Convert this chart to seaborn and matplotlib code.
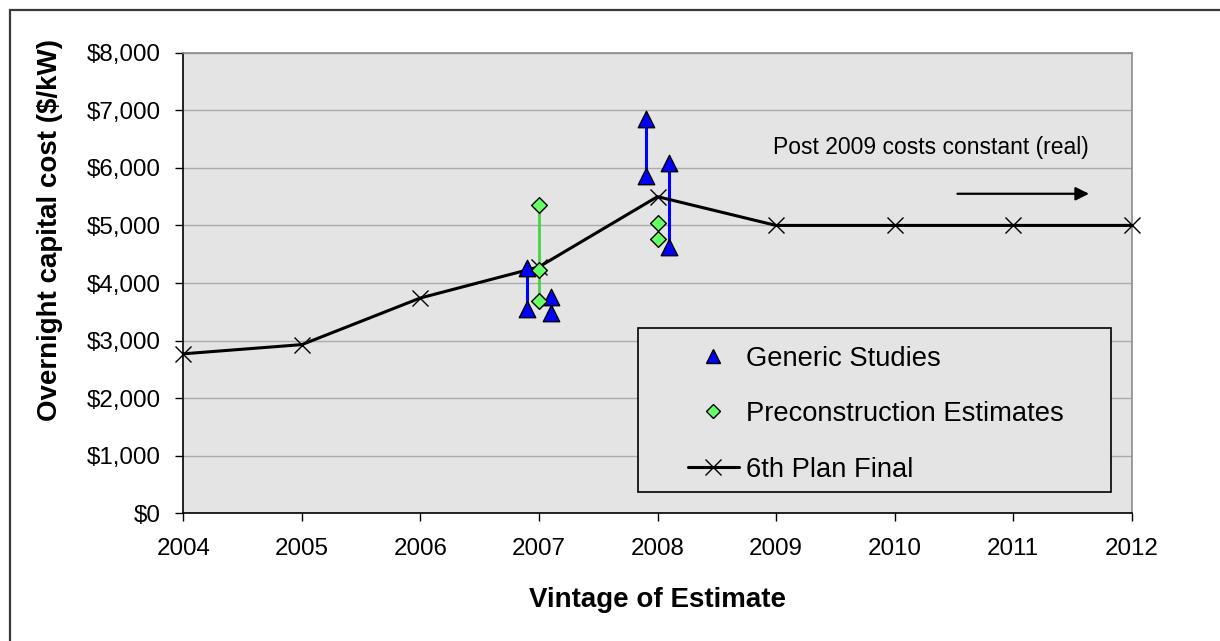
import matplotlib
matplotlib.use("Agg")
import matplotlib.pyplot as plt
import seaborn as sns
import pandas as pd
import numpy as np
from matplotlib.lines import Line2D
from matplotlib.patches import Rectangle
from matplotlib.ticker import FuncFormatter, MultipleLocator

# ---------------- data ----------------
plan_years = [2004, 2005, 2006, 2007, 2008, 2009, 2010, 2011, 2012]
plan_cost = [2770, 2930, 3740, 4280, 5500, 5000, 5000, 5000, 5000]

generic_x = [2006.9, 2006.9, 2007.1, 2007.1, 2007.9, 2007.9, 2008.1, 2008.1]
generic_cost = [4260, 3550, 3760, 3480, 6850, 5850, 6090, 4630]

precon_x = [2007.0, 2007.0, 2007.0, 2008.0, 2008.0]
precon_cost = [5350, 4230, 3690, 5040, 4765]

series_labels = ["Generic Studies", "Preconstruction Estimates", "6th Plan Final"]
x_title = "Vintage of Estimate"
y_title = "Overnight capital cost ($/kW)"
note_text = "Post 2009 costs constant (real)"

# ---------------- style ----------------
sns.set_theme(style="white")
plt.rcParams['font.family'] = ['Liberation Sans', 'DejaVu Sans']
plt.rcParams['text.color'] = 'black'

BLUE = "#0000ff"
GREEN_FACE = "#66ff66"
GREEN_LINE = "#44d444"
BG = "#e4e4e4"

fig = plt.figure(figsize=(12.2, 6.41), dpi=100)
ax = fig.add_axes([0.15025, 0.19922, 0.77737, 0.71856])
ax.set_facecolor(BG)

# outer frame (top / left visible)
fig.patches.append(Rectangle((10 / 1220, -0.2), 1.2, 1.2 - 10 / 641,
                             transform=fig.transFigure, fill=False,
                             edgecolor="#3a3a3a", linewidth=1.6, clip_on=False))

# range lines
gen_df = pd.DataFrame({"x": generic_x, "cost": generic_cost})
pre_df = pd.DataFrame({"x": precon_x, "cost": precon_cost})
g_rng = gen_df.groupby("x")["cost"].agg(["min", "max"]).reset_index()
p_rng = pre_df.groupby("x")["cost"].agg(["min", "max"]).reset_index()
ax.vlines(g_rng["x"], g_rng["min"], g_rng["max"], color=BLUE, linewidth=2.2, zorder=3)
ax.vlines(p_rng["x"], p_rng["min"], p_rng["max"], color=GREEN_LINE, linewidth=2.0, zorder=3)

# 6th plan line
plan_df = pd.DataFrame({"year": plan_years, "cost": plan_cost})
sns.lineplot(data=plan_df, x="year", y="cost", ax=ax, color="black", linewidth=2.2,
             marker="x", markersize=11, markeredgewidth=1.0, markeredgecolor="black",
             zorder=4, clip_on=False)

# scatter points
sns.scatterplot(data=gen_df, x="x", y="cost", ax=ax, marker="^", s=140, color=BLUE,
                edgecolor="black", linewidth=1.0, zorder=5, clip_on=False)
sns.scatterplot(data=pre_df, x="x", y="cost", ax=ax, marker="D", s=64, color=GREEN_FACE,
                edgecolor="black", linewidth=1.0, zorder=5, clip_on=False)

# axes
ax.set_xlim(2004, 2012)
ax.set_ylim(0, 8000)
ax.xaxis.set_major_locator(MultipleLocator(1))
ax.yaxis.set_major_locator(MultipleLocator(1000))
ax.xaxis.set_major_formatter(FuncFormatter(lambda v, p: f"{int(round(v))}"))
ax.yaxis.set_major_formatter(FuncFormatter(lambda v, p: f"${v:,.0f}"))
ax.grid(axis="y", color="#ababab", linewidth=1.0)
ax.grid(axis="x", visible=False)
ax.set_axisbelow(True)
for side in ["left", "bottom"]:
    ax.spines[side].set_color("black")
    ax.spines[side].set_linewidth(1.2)
for side in ["top", "right"]:
    ax.spines[side].set_color("#8c8c8c")
    ax.spines[side].set_linewidth(1.2)
ax.tick_params(axis="both", which="major", direction="out", length=6, width=1.0,
               color="black", labelsize=17.4, labelcolor="black",
               bottom=True, left=True)
ax.tick_params(axis="y", pad=10)
ax.tick_params(axis="x", pad=12)

ax.set_xlabel(x_title, fontsize=20, fontweight="bold", color="black")
ax.set_ylabel(y_title, fontsize=20, fontweight="bold", color="black")
ax.xaxis.set_label_coords(0.5, -0.188)
ax.xaxis.label.set_va("center")
ax.yaxis.set_label_coords(-0.1406, 0.615)
ax.yaxis.label.set_va("center")

# annotation
ax.text(2010.31, 6350, note_text, fontsize=16.5, ha="center", va="center", color="black")
ax.annotate("", xy=(2011.64, 5550), xytext=(2010.53, 5550),
            arrowprops=dict(arrowstyle="-|>", color="black", lw=1.6,
                            mutation_scale=20, shrinkA=0, shrinkB=0))

# legend
ax.add_patch(Rectangle((0.4794, 0.0462), 0.4988, 0.3561, transform=ax.transAxes,
                       facecolor=BG, edgecolor="black", linewidth=1.2, zorder=6))
handles = [
    Line2D([], [], marker="^", linestyle="none", markerfacecolor=BLUE,
           markeredgecolor="black", markersize=10.5, markeredgewidth=1.0),
    Line2D([], [], marker="D", linestyle="none", markerfacecolor=GREEN_FACE,
           markeredgecolor="black", markersize=7.2, markeredgewidth=1.0),
    Line2D([], [], marker="x", color="black", linewidth=2.2, markersize=11,
           markeredgewidth=1.0),
]
leg = ax.legend(handles, series_labels, loc="upper left", bbox_to_anchor=(0.5322, 0.3643),
                frameon=False, fontsize=19.7, handlelength=1.86, handletextpad=0.26,
                labelspacing=1.08, borderpad=0, borderaxespad=0, labelcolor="black")
leg.set_zorder(7)

fig.savefig("out.png", dpi=100)
